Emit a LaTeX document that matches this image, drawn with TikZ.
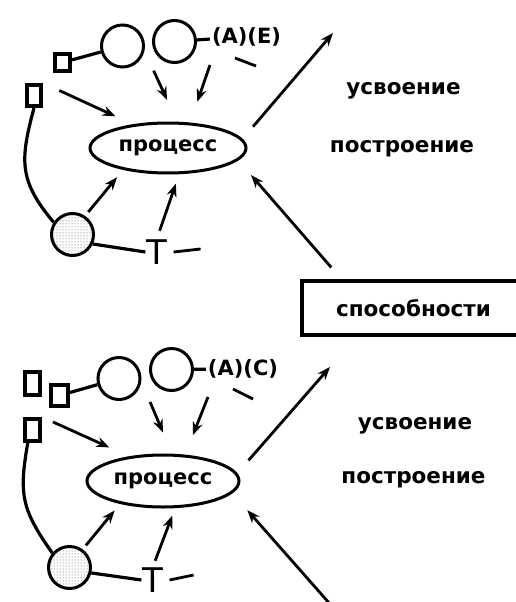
\documentclass[tikz,border=0pt]{standalone}
\usepackage{fontspec}
\setmainfont{DejaVu Sans}
\usetikzlibrary{arrows.meta,shapes.geometric,patterns}
\definecolor{ink}{RGB}{0,0,0}
\tikzset{
  every picture/.style={color=ink, line width=2.4pt},
  ring/.style={draw, circle, inner sep=0pt, minimum size=42pt, line width=3pt},
  spot/.style={ring, pattern=dots, pattern color=ink!70},
  tab/.style={draw, rectangle, inner sep=0pt, line width=4pt},
  oval/.style={draw, ellipse, inner sep=0pt, line width=3pt, font=\bfseries\fontsize{21}{24}\selectfont},
  frame/.style={draw, rectangle, inner sep=0pt, line width=4.5pt, minimum width=223pt, minimum height=54pt, font=\bfseries\fontsize{21.5}{24}\selectfont},
  word/.style={font=\bfseries\fontsize{21.5}{24}\selectfont, inner sep=0pt},
  tag/.style={font=\bfseries\fontsize{21}{24}\selectfont, inner sep=1pt},
  tee/.style={font=\fontsize{34}{36}\selectfont, inner sep=0pt},
  flow/.style={-{Stealth[length=13pt,width=10pt]}, line width=2.8pt},
  link/.style={line width=3.2pt},
  stub/.style={line width=2.8pt},
}

\begin{document}
\begin{tikzpicture}[x=1pt, y=1pt]
  \useasboundingbox (0,0) rectangle (515,-602);
  % upper panel
  \node[oval, minimum width=156pt, minimum height=50pt] (t-proc) at (168,-148) {процесс};
  \node[ring] (t-c1) at (122.5,-46) {};
  \node[ring] (t-c2) at (174.5,-41.5) {};
  \node[tab, minimum width=15pt, minimum height=17pt] (t-sq1) at (62.5,-62.5) {};
  \node[tab, minimum width=14pt, minimum height=21pt] (t-sq2) at (34,-95.5) {};
  \node[spot] (t-dot) at (72.5,-234.5) {};
  \node[tee] (t-T) at (157,-252) {T};
  \node[tag] (t-lab) at (246.5,-36.5) {(A)(E)};
  \node[word] (t-w1) at (403.5,-91) {усвоение};
  \node[word] (t-w2) at (402,-149) {построение};
  \node[frame] (box) at (413.5,-308) {способности};
  \coordinate (t-in) at (210,-65);
  \coordinate (t-up) at (333,-33);
  \draw[link] (t-sq1) -- (t-c1);
  \draw[link] (t-c2) -- (t-lab);
  \draw[stub] (235,-58) -- (256,-66);
  \draw[flow, shorten <=22pt, shorten >=24pt] (t-c1.-12) -- (t-proc.71);
  \draw[flow, shorten >=22pt] (t-in) -- (t-proc.49);
  \draw[flow, shorten <=18pt, shorten >=19pt] (t-sq2.north east) -- (t-proc.146);
  \draw[link] (t-sq2.south) to[out=-105, in=130, looseness=1.2] (t-dot.147);
  \draw[flow, shorten <=5pt, shorten >=9.5pt] (t-dot.56) -- (t-proc.206);
  \draw[link] (t-dot.-25) -- (t-T.west);
  \draw[stub] ([xshift=5pt]t-T.east) -- ++(27,3);
  \draw[flow, shorten <=8pt, shorten >=10pt] (t-T.north) -- (t-proc.-67);
  \draw[flow, shorten <=16pt] (t-proc.7) -- (t-up);
  \draw[flow, shorten <=15pt, shorten >=19.5pt] (box.158) -- (t-proc.-10);
  % lower panel
  \node[oval, minimum width=152pt, minimum height=52pt] (b-proc) at (163,-481) {процесс};
  \node[ring] (b-c1) at (119,-378.5) {};
  \node[ring] (b-c2) at (171.5,-369.5) {};
  \node[tab, minimum width=15pt, minimum height=23pt] (b-sq0) at (32.5,-383.5) {};
  \node[tab, minimum width=17pt, minimum height=21pt] (b-sq1) at (59.5,-395.5) {};
  \node[tab, minimum width=15pt, minimum height=22pt] (b-sq2) at (32.5,-430) {};
  \node[spot] (b-dot) at (69.5,-567.5) {};
  \node[tee] (b-T) at (153,-580) {T};
  \node[tag] (b-lab) at (243,-369) {(A)(C)};
  \node[word] (b-w1) at (415,-426) {усвоение};
  \node[word] (b-w2) at (413.5,-480) {построение};
  \coordinate (b-in) at (208,-397);
  \coordinate (b-up) at (330,-367);
  \coordinate (b-low) at (330,-604);
  \draw[link] (b-sq1) -- (b-c1);
  \draw[link] (b-c2) -- (b-lab);
  \draw[stub] (233,-389) -- (253,-399);
  \draw[flow, shorten <=22.5pt, shorten >=23pt] (b-c1.-7) -- (b-proc.72);
  \draw[flow, shorten >=21pt] (b-in) -- (b-proc.50);
  \draw[flow, shorten <=12pt, shorten >=21.5pt] (b-sq2.north east) -- (b-proc.144);
  \draw[link] (b-sq2.250) to[out=-100, in=125, looseness=1.2] (b-dot.140);
  \draw[flow, shorten <=5pt, shorten >=8.5pt] (b-dot.54) -- (b-proc.208);
  \draw[link] (b-dot.-14) -- (b-T.west);
  \draw[stub] ([xshift=5pt]b-T.east) -- ++(24,5);
  \draw[flow, shorten <=6pt, shorten >=8pt] (b-T.north) -- (b-proc.-66);
  \draw[flow, shorten <=17pt] (b-proc.6) -- (b-up);
  \draw[flow, shorten >=22.5pt] (b-low) -- (b-proc.-10);
\end{tikzpicture}
\end{document}
